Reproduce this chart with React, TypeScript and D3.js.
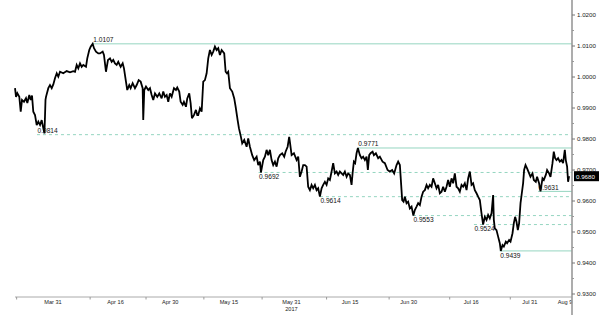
import React from "react";
import * as d3 from "d3";

const START = Date.UTC(2017, 2, 31);
const DAY = 86400000;

// [day offset from 2017-03-31, price]
const priceSeries: [number, number][] = [
  [-9.72, 0.9964], [-9.46, 0.9936], [-9.13, 0.9948], [-8.62, 0.9936], [-8.26, 0.9888],
  [-7.93, 0.9926], [-7.42, 0.992], [-6.91, 0.9932], [-6.57, 0.9916], [-6.06, 0.9942],
  [-5.7, 0.9926], [-5.37, 0.994], [-5.04, 0.9888], [-4.6, 0.9877], [-4.17, 0.9845],
  [-3.76, 0.9856], [-3.32, 0.9845], [-2.89, 0.9861], [-2.48, 0.9835], [-2.2, 0.9818],
  [-2.05, 0.9872], [-1.92, 0.9926], [-1.79, 0.9936], [-1.2, 0.9964], [-0.77, 0.9974],
  [-0.33, 0.9964], [0.08, 0.9976], [0.51, 0.9996], [0.95, 1.0012], [1.36, 1.0001],
  [1.79, 1.0017], [2.63, 1.0012], [3.5, 1.0019], [4.35, 1.0015], [5.19, 1.0019],
  [5.63, 1.0017], [6.06, 1.0039], [6.47, 1.0028], [6.91, 1.0044], [7.34, 1.0033],
  [7.75, 1.0039], [8.44, 1.0033], [8.77, 1.006], [9.28, 1.0087], [9.64, 1.0098],
  [10.15, 1.0107], [10.49, 1.0093], [11.0, 1.0082], [11.59, 1.0076], [12.02, 1.0076],
  [12.71, 1.0082], [13.04, 1.0071], [13.55, 1.0017], [14.07, 1.0055], [14.58, 1.006],
  [15.01, 1.0049], [15.42, 1.0055], [15.86, 1.0044], [16.29, 1.0039], [16.7, 1.0049],
  [17.31, 1.0033], [17.83, 1.0044], [18.16, 1.0028], [18.67, 0.9985], [19.0, 0.9958],
  [19.51, 0.9974], [19.87, 0.9964], [20.38, 0.998], [20.97, 0.9964], [21.41, 0.9974],
  [21.92, 0.999], [22.43, 0.9985], [22.94, 0.9964], [23.09, 0.9861], [23.35, 0.9958],
  [23.79, 0.9969], [24.37, 0.9958], [24.81, 0.9964], [25.24, 0.9942], [25.65, 0.9926],
  [26.09, 0.9947], [26.68, 0.9936], [27.19, 0.9947], [27.8, 0.9931], [28.21, 0.9953],
  [28.64, 0.9936], [29.08, 0.9942], [29.49, 0.992], [29.92, 0.9947], [30.36, 0.9936],
  [30.95, 0.9964], [31.46, 0.9958], [31.79, 0.9966], [32.3, 0.9953], [32.66, 0.992],
  [33.17, 0.991], [33.5, 0.992], [34.02, 0.9904], [34.35, 0.9931], [34.86, 0.9947],
  [35.22, 0.9915], [35.55, 0.9867], [36.06, 0.9877], [36.57, 0.9894], [36.91, 0.9877],
  [37.16, 0.9877], [37.6, 0.9899], [38.03, 0.9888], [38.44, 0.9985], [38.87, 0.999],
  [39.31, 1.0012], [39.72, 1.006], [40.15, 1.0087], [40.59, 1.0071], [41.0, 1.0082],
  [41.43, 1.0098], [41.87, 1.0087], [42.28, 1.0093], [42.71, 1.0071], [43.15, 1.0087],
  [43.81, 1.0076], [44.17, 1.0017], [44.5, 1.0012], [44.83, 1.0017], [45.27, 0.9964],
  [45.86, 0.9953], [46.37, 0.9931], [46.73, 0.9904], [47.24, 0.9861], [47.57, 0.9835],
  [48.08, 0.9807], [48.41, 0.9786], [48.93, 0.9797], [49.54, 0.9775], [49.95, 0.9802],
  [50.38, 0.9775], [50.97, 0.9748], [51.48, 0.9732], [52.1, 0.9743], [52.51, 0.9716],
  [52.94, 0.9727], [53.2, 0.9692], [53.79, 0.9732], [54.22, 0.9743], [54.65, 0.9765],
  [55.06, 0.9748], [55.5, 0.9765], [55.93, 0.9732], [56.34, 0.9716], [56.78, 0.9727],
  [57.21, 0.9711], [57.62, 0.9738], [58.06, 0.9748], [58.64, 0.9754], [59.16, 0.9743],
  [59.51, 0.9759], [60.03, 0.9775], [60.43, 0.9807], [60.61, 0.9791], [61.05, 0.9748],
  [61.64, 0.9754], [62.33, 0.9732], [62.74, 0.9743], [63.17, 0.9678], [63.61, 0.9695],
  [64.02, 0.9716], [64.45, 0.9716], [64.89, 0.9711], [65.29, 0.9646], [65.73, 0.9635],
  [66.16, 0.9652], [66.57, 0.9641], [67.01, 0.9652], [67.44, 0.9635], [67.85, 0.9641],
  [68.29, 0.9614], [68.72, 0.9641], [69.13, 0.9652], [69.57, 0.9662], [70.0, 0.9652],
  [70.41, 0.9673], [70.84, 0.9668], [71.28, 0.9695], [71.69, 0.9722], [72.12, 0.9689],
  [72.56, 0.9695], [72.97, 0.9684], [73.4, 0.9695], [73.84, 0.9689], [74.25, 0.9684],
  [74.68, 0.9695], [75.12, 0.9678], [75.52, 0.9689], [75.96, 0.9684], [76.39, 0.9652],
  [76.65, 0.9689], [76.98, 0.9727], [77.31, 0.9722], [77.67, 0.9754], [78.01, 0.9771],
  [78.52, 0.9748], [78.95, 0.9738], [79.36, 0.9743], [79.8, 0.9732], [80.23, 0.9743],
  [80.56, 0.97], [80.9, 0.9748], [81.25, 0.9754], [81.77, 0.9759], [82.1, 0.9748],
  [82.61, 0.9754], [83.2, 0.9738], [83.63, 0.9743], [84.32, 0.9727], [84.91, 0.9722],
  [85.6, 0.97], [86.19, 0.9695], [86.78, 0.97], [87.29, 0.9689], [87.9, 0.9716],
  [88.31, 0.9727], [88.75, 0.9716], [89.0, 0.9668], [89.34, 0.9603], [89.69, 0.9598],
  [90.03, 0.9614], [90.46, 0.9593], [90.87, 0.9598], [91.3, 0.9576], [91.74, 0.9582],
  [92.2, 0.9553], [92.58, 0.9571], [93.02, 0.9582], [93.43, 0.9593], [93.86, 0.9587],
  [94.3, 0.9614], [94.71, 0.963], [95.14, 0.9635], [95.58, 0.9652], [95.98, 0.9641],
  [96.42, 0.9652], [96.85, 0.9646], [97.26, 0.9673], [97.7, 0.9657], [98.13, 0.9641],
  [98.54, 0.9652], [98.98, 0.9625], [99.41, 0.963], [99.82, 0.9646], [100.26, 0.963],
  [100.69, 0.9646], [101.1, 0.9668], [101.53, 0.9646], [101.97, 0.9673], [102.38, 0.9657],
  [102.81, 0.9689], [103.25, 0.9646], [103.66, 0.9641], [104.09, 0.963], [104.53, 0.9652],
  [104.94, 0.9646], [105.37, 0.9657], [105.81, 0.9635], [106.22, 0.9673], [106.65, 0.9695],
  [107.09, 0.9652], [107.49, 0.9657], [107.93, 0.9635], [108.36, 0.9625], [108.77, 0.9614],
  [109.21, 0.9603], [109.64, 0.956], [110.05, 0.9524], [110.49, 0.9549], [110.92, 0.9539],
  [111.33, 0.9555], [111.76, 0.9544], [112.2, 0.956], [112.61, 0.9619], [112.79, 0.9539],
  [113.04, 0.9512], [113.47, 0.9506], [113.89, 0.9485], [114.32, 0.9464], [114.58, 0.9439],
  [115.01, 0.9458], [115.35, 0.9453], [115.86, 0.9469], [116.19, 0.9464], [116.7, 0.9474],
  [117.06, 0.9469], [117.57, 0.9496], [117.9, 0.9528], [118.24, 0.9549], [118.59, 0.9533],
  [118.93, 0.9506], [119.26, 0.9528], [119.62, 0.9593], [119.95, 0.9625], [120.28, 0.9657],
  [120.54, 0.97], [120.9, 0.9716], [121.3, 0.9705], [121.82, 0.9689], [122.17, 0.9678],
  [122.69, 0.9689], [123.02, 0.9668], [123.53, 0.9662], [123.86, 0.9678], [124.37, 0.9657],
  [124.73, 0.9631], [125.24, 0.9673], [125.58, 0.9668], [126.09, 0.9684], [126.42, 0.97],
  [126.93, 0.9689], [127.29, 0.9678], [127.8, 0.9722], [128.13, 0.9759], [128.47, 0.9738],
  [128.82, 0.9732], [129.23, 0.9738], [129.67, 0.9727], [130.1, 0.9732], [130.51, 0.9722],
  [130.95, 0.9765], [131.2, 0.9732], [131.54, 0.9711], [131.79, 0.9662], [132.05, 0.968],
];

const yTickValues = [0.93, 0.94, 0.95, 0.96, 0.97, 0.98, 0.99, 1.0, 1.01, 1.02];
const yMinorTickValues = [0.935, 0.945, 0.955, 0.965, 0.975, 0.985, 0.995, 1.005, 1.015];
const xTickLabels = ["Mar 31", "Apr 16", "Apr 30", "May 15", "May 31", "Jun 15", "Jun 30", "Jul 16", "Jul 31", "Aug 9"];
const xTickDays = [0, 16, 30, 45, 61, 76, 91, 107, 122, 131];
const xMinorTickDays = [-9.3, 9.5, 23.8, 38.6, 53.5, 70, 86, 101.5, 117];
const yearLabel = "2017";
const yearLabelDay = 61;

const levelValues = [1.0107, 0.9814, 0.9771, 0.9692, 0.9614, 0.9553, 0.9524, 0.9631, 0.9439];
const levelStartDays = [10.2, -4.1, 78.0, 52.6, 68.3, 92.1, 107.7, 124.1, 114.3];
const levelSolid = [true, false, true, false, false, false, false, true, true];
const levelLabelAbove = [true, true, true, false, false, false, false, true, false];
const lastValue = 0.968;

const toDate = (d: number) => new Date(START + d * DAY);

export default function App() {
  const W = 600, H = 318;
  const axisX = 572;
  const axisY = 297;
  const x = d3.scaleUtc().domain([toDate(0), toDate(131)]).range([53, 565]);
  const y = d3.scaleLinear().domain([0.93, 1.02]).range([294, 15]);
  const fmt = d3.format(".4f");
  const line = d3
    .line<[number, number]>()
    .x((d) => x(toDate(d[0])))
    .y((d) => y(d[1]));
  const levelColor = "#95d5c0";
  const font = "'Liberation Sans', Arial, sans-serif";

  return (
    <svg
      width={W}
      height={H}
      style={{ position: "absolute", left: 0, top: 0, background: "#fff" }}
      fontFamily={font}
    >
      {levelValues.map((v, i) => (
        <line
          key={"lv" + i}
          x1={x(toDate(levelStartDays[i]))}
          x2={axisX}
          y1={y(v)}
          y2={y(v)}
          stroke={levelColor}
          strokeWidth={1}
          strokeDasharray={levelSolid[i] ? undefined : "3,3"}
        />
      ))}
      <path d={line(priceSeries) || ""} fill="none" stroke="#000" strokeWidth={1.8} strokeLinejoin="miter" strokeMiterlimit={3} />
      {levelValues.map((v, i) => (
        <text
          key={"ll" + i}
          x={x(toDate(levelStartDays[i])) + 0.5}
          y={levelLabelAbove[i] ? y(v) - 1.8 : y(v) + 6.8}
          fontSize={6.6}
          fill="#111"
        >
          {fmt(v)}
        </text>
      ))}
      <line x1={15} x2={axisX} y1={axisY} y2={axisY} stroke="#aaa" strokeWidth={1} />
      {xMinorTickDays.map((d, i) => (
        <line key={"xm" + i} x1={x(toDate(d))} x2={x(toDate(d))} y1={axisY} y2={axisY + 2.5} stroke="#999" strokeWidth={1} />
      ))}
      {xTickDays.map((d, i) => (
        <text key={"xt" + i} x={x(toDate(d))} y={304} fontSize={5.6} fill="#222" textAnchor="middle">
          {xTickLabels[i]}
        </text>
      ))}
      <text x={x(toDate(yearLabelDay))} y={311} fontSize={5.6} fill="#222" textAnchor="middle">
        {yearLabel}
      </text>
      <line x1={axisX} x2={axisX} y1={0} y2={315} stroke="#999" strokeWidth={1.6} />
      {yMinorTickValues.map((v, i) => (
        <line key={"ym" + i} x1={axisX} x2={axisX + 2} y1={y(v)} y2={y(v)} stroke="#999" strokeWidth={1} />
      ))}
      {yTickValues.map((v, i) => (
        <g key={"yt" + i}>
          <line x1={axisX} x2={axisX + 3} y1={y(v)} y2={y(v)} stroke="#777" strokeWidth={1} />
          <text x={axisX + 5} y={y(v) + 2.2} fontSize={6.2} fill="#222">
            {fmt(v)}
          </text>
        </g>
      ))}
      <rect x={axisX + 2} y={y(lastValue) - 5} width={25} height={10} fill="#000" />
      <text x={axisX + 4} y={y(lastValue) + 2.3} fontSize={6.2} fill="#fff">
        {fmt(lastValue)}
      </text>
    </svg>
  );
}
